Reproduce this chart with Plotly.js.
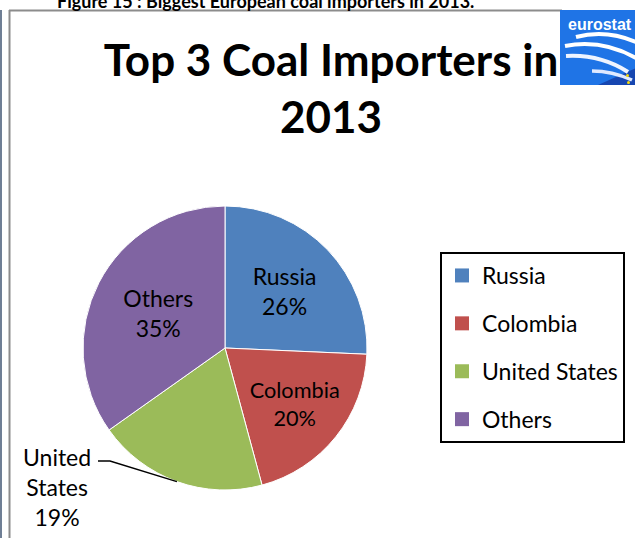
<!DOCTYPE html>
<html>
<head>
<meta charset="utf-8">
<script src="https://cdn.plot.ly/plotly-3.0.1.min.js"></script>
<style>html,body{margin:0;padding:0;background:#fff;}#chart{width:635px;height:538px;}</style>
</head>
<body>
<div id="chart"></div>
<script>
// ---- data ----
const categories = ['Russia', 'Colombia', 'United States', 'Others'];
const shares = [25.7, 20.1, 19.4, 34.8];
const sliceColors = ['#4F81BD', '#C0504D', '#9BBB59', '#8064A2'];
const chartTitle = 'Top 3 Coal Importers in<br>2013';
const figureCaption = 'Figure 15 : Biggest European coal importers in 2013.';
const logoText = 'eurostat';

// ---- geometry helpers (canvas px -> paper) ----
const W = 635, H = 538;
const px = x => x / W;
const py = y => 1 - y / H;
const cx = 225, cy = 348, R = 142;

const total = shares.reduce((a, b) => a + b, 0);
const pct = shares.map(v => Math.round(v / total * 100) + '%');

// outside label slice (United States)
const outIdx = 2;
const cumBefore = shares.slice(0, outIdx).reduce((a, b) => a + b, 0);
const midFrac = (cumBefore + shares[outIdx] / 2) / total;
const ang = midFrac * 2 * Math.PI;
const edgeX = cx + R * Math.sin(ang);
const edgeY = cy - R * Math.cos(ang);

const pieTrace = {
  type: 'pie',
  labels: categories,
  values: shares,
  sort: false,
  direction: 'clockwise',
  rotation: 0,
  marker: {colors: sliceColors, line: {color: '#ffffff', width: 1}},
  texttemplate: categories.map((c, i) => i === outIdx ? '' : '%{label}<br>%{percent:.0%}'),
  textposition: categories.map((c, i) => i === outIdx ? 'none' : 'inside'),
  insidetextorientation: 'horizontal',
  textfont: {family: 'Lato, sans-serif', size: 23, color: '#000000'},
  domain: {x: [px(cx - R), px(cx + R)], y: [py(cy + R), py(cy - R)]},
  showlegend: false,
  hoverinfo: 'label+percent'
};

const legendTraces = categories.map((c, i) => ({
  type: 'scatter',
  mode: 'markers',
  x: [null], y: [null],
  name: c,
  legendgroup: 'g' + i,
  marker: {symbol: 'square', size: 14, color: sliceColors[i]},
  showlegend: true
}));

const shapes = [
  // frame lines
  {type: 'line', xref: 'paper', yref: 'paper', x0: px(9.5), x1: px(9.5), y0: py(10), y1: py(540), line: {color: '#8c8c8c', width: 2}},
  {type: 'line', xref: 'paper', yref: 'paper', x0: px(9), x1: px(562), y0: py(10.5), y1: py(10.5), line: {color: '#8c8c8c', width: 2}},
  {type: 'line', xref: 'paper', yref: 'paper', x0: px(1), x1: px(1), y0: py(10), y1: py(540), line: {color: '#6f7f95', width: 2}},
  // leader line for outside label
  {type: 'path', xref: 'paper', yref: 'paper',
   path: `M ${px(98)} ${py(461)} L ${px(110)} ${py(461)} L ${px(edgeX)} ${py(edgeY)}`,
   line: {color: '#000000', width: 1.5}},
  // eurostat logo
  {type: 'rect', xref: 'paper', yref: 'paper', x0: px(560), x1: px(636), y0: py(85), y1: py(10), fillcolor: '#1f74e6', line: {width: 0}},
  {type: 'path', xref: 'paper', yref: 'paper', path: `M ${px(598)} ${py(85)} L ${px(636)} ${py(68)} L ${px(636)} ${py(85)} Z`, fillcolor: '#1646b0', line: {width: 0}},
  {type: 'path', xref: 'paper', yref: 'paper', path: `M ${px(576)} ${py(37)} Q ${px(606)} ${py(29)} ${px(636)} ${py(42)}`, line: {color: '#ffffff', width: 4}},
  {type: 'path', xref: 'paper', yref: 'paper', path: `M ${px(565)} ${py(46)} Q ${px(602)} ${py(39)} ${px(636)} ${py(58)}`, line: {color: '#ffffff', width: 4}},
  {type: 'path', xref: 'paper', yref: 'paper', path: `M ${px(566)} ${py(56)} Q ${px(600)} ${py(54)} ${px(628)} ${py(72)}`, line: {color: '#eef4ff', width: 4}},
  {type: 'path', xref: 'paper', yref: 'paper', path: `M ${px(592)} ${py(71)} Q ${px(612)} ${py(71)} ${px(632)} ${py(80)}`, line: {color: '#dfe9ff', width: 3.5}},
  {type: 'circle', xref: 'paper', yref: 'paper', x0: px(626), x1: px(629), y0: py(77), y1: py(74), fillcolor: '#f5d90a', line: {width: 0}},
  {type: 'circle', xref: 'paper', yref: 'paper', x0: px(627), x1: px(630), y0: py(84), y1: py(81), fillcolor: '#f5d90a', line: {width: 0}}
];

const annotations = [
  {xref: 'paper', yref: 'paper', x: px(265), y: py(1), xanchor: 'center', yanchor: 'middle', showarrow: false,
   text: '<b>' + figureCaption + '</b>', font: {family: 'Lato, sans-serif', size: 18, color: '#000000'}},
  {xref: 'paper', yref: 'paper', x: px(566), y: py(24), xanchor: 'left', yanchor: 'middle', showarrow: false,
   text: '<b>' + logoText + '</b>', font: {family: 'Liberation Sans, Arial, sans-serif', size: 16, color: '#ffffff'}},
  {xref: 'paper', yref: 'paper', x: px(57), y: py(487), xanchor: 'center', yanchor: 'middle', showarrow: false,
   align: 'center',
   text: categories[outIdx].replace(' ', '<br>') + '<br>' + pct[outIdx],
   font: {family: 'Lato, sans-serif', size: 23, color: '#000000'}}
];

const layout = {
  width: W, height: H,
  margin: {l: 0, r: 0, t: 0, b: 0, pad: 0},
  paper_bgcolor: '#ffffff',
  plot_bgcolor: '#ffffff',
  title: {
    text: '<b>' + chartTitle + '</b>',
    font: {family: 'Lato, sans-serif', size: 44, color: '#000000'},
    x: px(331), xanchor: 'center', xref: 'paper',
    y: py(76), yanchor: 'top', yref: 'container'
  },
  xaxis: {visible: false},
  yaxis: {visible: false},
  showlegend: true,
  legend: {
    x: px(440), y: py(252), xanchor: 'left', yanchor: 'top',
    bordercolor: '#000000', borderwidth: 2, bgcolor: '#ffffff',
    font: {family: 'Lato, sans-serif', size: 23, color: '#000000'},
    traceorder: 'grouped', tracegroupgap: 15,
    itemclick: false, itemdoubleclick: false
  },
  shapes: shapes,
  annotations: annotations
};

Plotly.newPlot('chart', [pieTrace].concat(legendTraces), layout, {displayModeBar: false, staticPlot: true});
</script>
</body>
</html>
